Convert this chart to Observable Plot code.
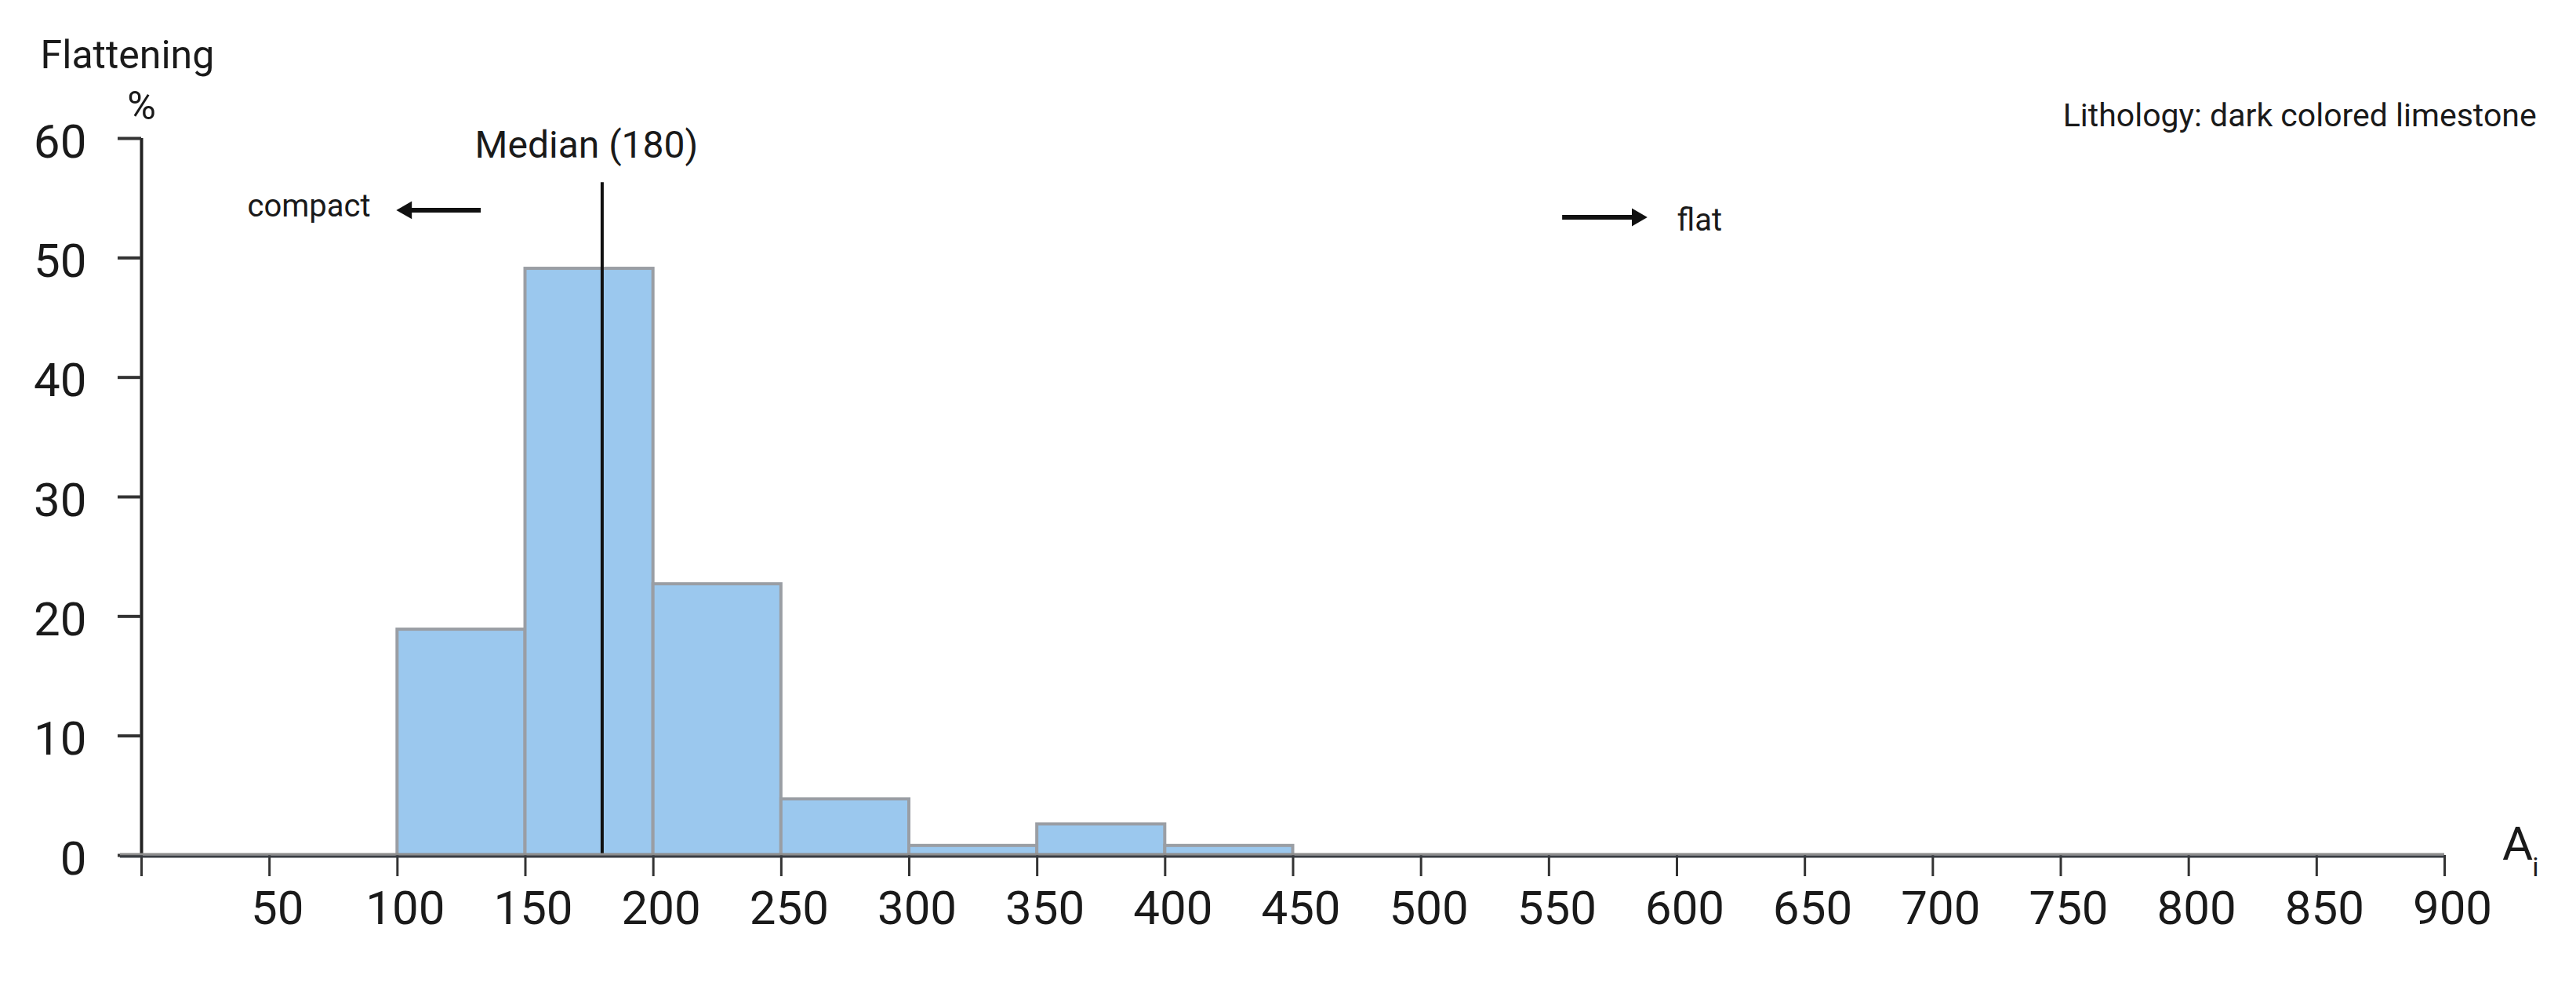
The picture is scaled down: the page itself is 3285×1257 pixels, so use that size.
<!DOCTYPE html>
<html>
<head>
<meta charset="utf-8">
<script src="https://cdn.jsdelivr.net/npm/d3@7"></script>
<script src="https://cdn.jsdelivr.net/npm/@observablehq/plot@0.6"></script>
<style>
  html, body { margin: 0; padding: 0; background: #fff; }
  svg { display: block; }
</style>
</head>
<body>
<div id="chart"></div>
<script>
// Histogram bins of flattening index A_i (lithology: dark colored limestone)
const binStart = [100, 150, 200, 250, 300, 350, 400];
const binEnd   = [150, 200, 250, 300, 350, 400, 450];
const percent  = [18.9, 49.1, 22.7, 4.7, 0.8, 2.6, 0.8];

const medianValue = 180;
const medianTop = 56.3;

const xTicks = d3.range(0, 901, 50);
const yTicks = [0, 10, 20, 30, 40, 50, 60];

// direction arrows (shaft start, shaft end, head position, y, head rotation)
const arrowShafts = [
  {x1: 132.7, x2: 104.2, y: 54.0},
  {x1: 555.3, x2: 583.8, y: 53.4}
];
const arrowHeads = [
  {x: 103.6, y: 54.0, rotate: -90},
  {x: 584.4, y: 53.4, rotate: 90}
];

const bins = binStart.map((s, i) => ({x1: s, x2: binEnd[i], y: percent[i]}));

const font = "Roboto, 'Noto Sans', sans-serif";
const ink = "#1a1a1a";

const chart = Plot.plot({
  width: 3285,
  height: 1257,
  marginLeft: 180,
  marginRight: 168,
  marginTop: 176,
  marginBottom: 167,
  style: {fontFamily: font, background: "#fff", color: ink},
  x: {domain: [0, 900]},
  y: {domain: [0, 60]},
  marks: [
    // bars
    Plot.rectY(bins, {x1: "x1", x2: "x2", y: "y", fill: "#9bc8ee", stroke: "#9a9ea4", strokeWidth: 4}),
    // median line
    Plot.ruleX([medianValue], {y1: 0, y2: medianTop, stroke: "#111", strokeWidth: 4}),
    // y axis line
    Plot.ruleX([0], {y1: 0, y2: 60, stroke: "#222", strokeWidth: 4}),
    // y ticks
    Plot.axisY({ticks: yTicks, tickSize: 30, tickFormat: () => "", stroke: "#333", strokeWidth: 4, label: null}),
    Plot.axisY({ticks: yTicks, tickSize: 0, tickPadding: 70, fontSize: 60, dy: 5, fill: ink, label: null}),
    // x ticks
    Plot.axisX({ticks: xTicks, tickSize: 27, tickFormat: () => "", stroke: "#333", strokeWidth: 3, label: null}),
    Plot.axisX({ticks: xTicks, tickSize: 0, tickPadding: 45, fontSize: 60, dx: 10, fill: ink,
                tickFormat: d => d === 0 ? "" : String(d), label: null}),
    // x axis line (two-tone, drawn above bars)
    Plot.ruleY([0], {x1: -8.3, x2: 900, stroke: "#8d8d8d", strokeWidth: 3, dy: -1.5}),
    Plot.ruleY([0], {x1: -8.3, x2: 900, stroke: "#383c42", strokeWidth: 3, dy: 1.5}),
    // annotations
    Plot.text(["Flattening"], {x: -39.5, y: 65.9, text: d => d, textAnchor: "start", lineAnchor: "bottom", fontSize: 50, fill: ink}),
    Plot.text(["%"], {x: 0, y: 61.6, text: d => d, textAnchor: "middle", lineAnchor: "bottom", fontSize: 50, fill: ink}),
    Plot.text(["Median (180)"], {x: medianValue, y: 58.4, dx: -20, text: d => d, textAnchor: "middle", lineAnchor: "bottom", fontSize: 48, fill: ink}),
    Plot.text(["compact"], {x: 89.5, y: 53.5, text: d => d, textAnchor: "end", lineAnchor: "bottom", fontSize: 40, fill: ink}),
    Plot.ruleY(arrowShafts, {x1: "x1", x2: "x2", y: "y", stroke: "#111", strokeWidth: 6}),
    Plot.dot(arrowHeads, {x: "x", y: "y", rotate: "rotate", symbol: "triangle", r: 8.5, fill: "#111", stroke: "none"}),
    Plot.text(["flat"], {x: 600, y: 52.3, text: d => d, textAnchor: "start", lineAnchor: "bottom", fontSize: 40, fill: ink}),
    Plot.text(["Lithology: dark colored limestone"], {x: 935.9, y: 61.05, text: d => d, textAnchor: "end", lineAnchor: "bottom", fontSize: 41, fill: ink}),
    Plot.text(["A"], {x: 928.5, y: -0.33, text: d => d, textAnchor: "middle", lineAnchor: "bottom", fontSize: 60, fill: ink}),
    Plot.text(["i"], {x: 935.5, y: -1.77, text: d => d, textAnchor: "middle", lineAnchor: "bottom", fontSize: 34, fill: ink})
  ]
});

document.getElementById("chart").appendChild(chart);
</script>
</body>
</html>
